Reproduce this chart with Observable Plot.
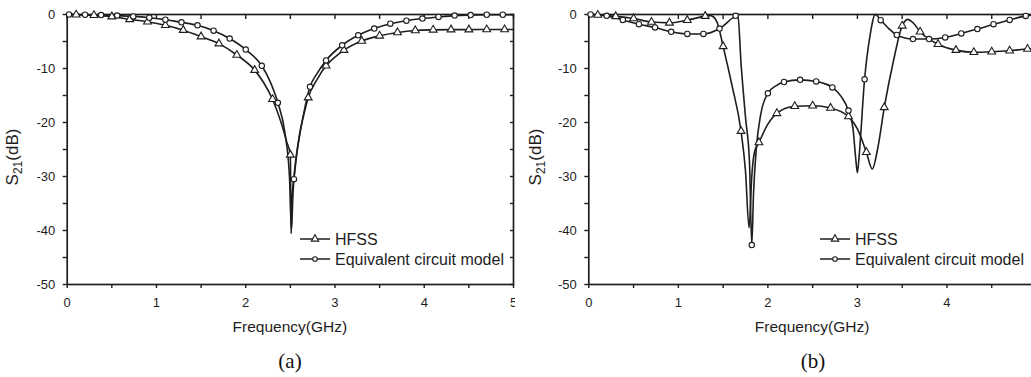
<!DOCTYPE html>
<html>
<head>
<meta charset="utf-8">
<script src="https://cdn.jsdelivr.net/npm/d3@7"></script>
<script src="https://cdn.jsdelivr.net/npm/@observablehq/plot@0.6"></script>
<style>
  html, body { margin: 0; padding: 0; background: #fff; }
  body { width: 1031px; height: 377px; overflow: hidden; position: relative; }
  .panel { position: absolute; top: 0; }
  .panel svg { max-width: none !important; }
  .panel svg g[aria-label$="tick label"] { font-size: 13px !important; }
  .cap { position: absolute; top: 349px; width: 80px; text-align: center;
         font-family: "Liberation Serif", "Times New Roman", serif; font-size: 21px; color: #111; }
</style>
</head>
<body>
<div id="pa" class="panel" style="left:0px;width:530px"></div>
<div id="pb" class="panel" style="left:515px;width:545px"></div>
<div class="cap" style="left:250px">(a)</div>
<div class="cap" style="left:773px">(b)</div>
<script>
// ---- data: [frequency (GHz), S21 (dB), marker shown (1/0)] ----
const hfssA = [
  [0, 0, 0], [0.1, -0.05, 1], [0.3, -0.15, 1], [0.5, -0.4, 1], [0.7, -0.9, 1],
  [0.9, -1.35, 1], [1.1, -2.0, 1], [1.3, -2.9, 1], [1.5, -4.1, 1], [1.7, -5.4, 1],
  [1.9, -7.5, 1], [2.1, -10.3, 1], [2.2, -12.6, 0], [2.3, -15.7, 1], [2.4, -20.2, 0],
  [2.46, -23.6, 0], [2.5, -26.0, 1], [2.508, -40.6, 0], [2.52, -34, 0], [2.55, -29, 0],
  [2.6, -22.5, 0], [2.65, -18.6, 0], [2.7, -15.4, 1], [2.8, -12.0, 0], [2.9, -9.5, 1],
  [3.0, -7.9, 0], [3.1, -6.6, 1], [3.3, -4.9, 1], [3.5, -3.95, 1], [3.7, -3.33, 1],
  [3.9, -2.95, 1], [4.1, -2.84, 1], [4.3, -2.8, 1], [4.5, -2.8, 1], [4.7, -2.78, 1],
  [4.9, -2.78, 1], [5.0, -2.78, 0]
];
const circuitA = [
  [0, 0, 0], [0.02, 0, 1], [0.2, -0.05, 1], [0.38, -0.1, 1], [0.56, -0.2, 1],
  [0.74, -0.35, 1], [0.92, -0.6, 1], [1.1, -0.95, 1], [1.28, -1.45, 1], [1.46, -2.0, 1],
  [1.64, -3.0, 1], [1.82, -4.45, 1], [2.0, -6.5, 1], [2.18, -9.5, 1], [2.27, -12.3, 0],
  [2.36, -16.35, 1], [2.44, -22, 0], [2.49, -30, 0], [2.512, -40, 0], [2.53, -33, 0],
  [2.54, -30.5, 1], [2.6, -22.8, 0], [2.65, -18.3, 0], [2.72, -13.4, 1], [2.8, -10.9, 0],
  [2.9, -8.5, 1], [3.08, -5.7, 1], [3.26, -3.85, 1], [3.44, -2.6, 1], [3.62, -1.7, 1],
  [3.8, -1.15, 1], [3.98, -0.75, 1], [4.16, -0.45, 1], [4.34, -0.2, 1], [4.52, -0.1, 1],
  [4.7, -0.05, 1], [4.88, -0.05, 1], [5.0, -0.05, 0]
];
const hfssB = [
  [0, 0, 0], [0.1, -0.1, 1], [0.3, -0.35, 1], [0.5, -0.75, 1], [0.7, -1.4, 1],
  [0.9, -1.55, 1], [1.1, -1.05, 1], [1.3, -0.3, 1], [1.36, -0.2, 0], [1.43, -1.3, 0],
  [1.5, -5.9, 1], [1.6, -13.2, 0], [1.7, -21.6, 1], [1.75, -29, 0], [1.79, -39.5, 0],
  [1.82, -30, 0], [1.85, -25.5, 0], [1.9, -23.7, 1], [2.0, -20.3, 0], [2.1, -18.3, 1],
  [2.3, -17.0, 1], [2.5, -16.9, 1], [2.7, -17.3, 1], [2.9, -18.9, 1], [3.0, -21.2, 0],
  [3.1, -25.5, 1], [3.166, -28.6, 0], [3.23, -24.5, 0], [3.3, -17.2, 1], [3.4, -8.8, 0],
  [3.5, -2.1, 1], [3.56, -0.9, 0], [3.62, -1.5, 0], [3.7, -3.2, 1], [3.9, -5.5, 1],
  [4.1, -6.6, 1], [4.3, -7.0, 1], [4.5, -6.9, 1], [4.7, -6.7, 1], [4.9, -6.4, 1],
  [5.0, -6.3, 0]
];
const circuitB = [
  [0, 0, 0], [0.02, 0, 1], [0.2, -0.25, 1], [0.38, -1.0, 1], [0.56, -1.8, 1],
  [0.74, -2.4, 1], [0.92, -3.2, 1], [1.1, -3.6, 1], [1.28, -3.6, 1], [1.46, -2.6, 1],
  [1.64, -0.25, 1], [1.665, -0.05, 0], [1.7, -9, 0], [1.75, -19, 0], [1.795, -27.5, 0],
  [1.82, -42.7, 1], [1.84, -33, 0], [1.87, -25, 0], [1.92, -18.5, 0], [2.0, -14.6, 1],
  [2.09, -13.2, 0], [2.18, -12.5, 1], [2.36, -12.1, 1], [2.54, -12.4, 1], [2.72, -13.5, 1],
  [2.82, -15.2, 0], [2.9, -17.8, 1], [2.95, -21, 0], [2.98, -26.5, 0], [3.0, -29.3, 0],
  [3.02, -26, 0], [3.08, -12, 1], [3.14, -4, 0], [3.2, 0, 0], [3.26, -1.05, 1],
  [3.35, -2.6, 0], [3.44, -3.8, 1], [3.62, -4.55, 1], [3.8, -4.55, 1], [3.98, -4.25, 1],
  [4.16, -3.5, 1], [4.34, -2.7, 1], [4.52, -1.8, 1], [4.7, -1.0, 1], [4.88, -0.26, 1],
  [5.0, 0, 0]
];
const xTickValues = [0, 0.5, 1, 1.5, 2, 2.5, 3, 3.5, 4, 4.5, 5];
const yTickValues = [-50, -45, -40, -35, -30, -25, -20, -15, -10, -5, 0];
const legendLabels = ["HFSS", "Equivalent circuit model"];
const xTitle = "Frequency(GHz)";

const INK = "#1e1e1e";
const FONT = "'Liberation Sans', Arial, sans-serif";

function panel(hfss, circ, cfg) {
  const H = 345;
  const fx = d => d[0], fy = d => d[1];
  const svg = Plot.plot({
    width: cfg.width, height: H,
    marginLeft: cfg.ml, marginRight: cfg.width - cfg.xEnd, marginTop: 14, marginBottom: H - 284,
    x: {domain: [0, 5]},
    y: {domain: [-50, 0]},
    style: {fontFamily: FONT, fontSize: "13px", color: INK, background: "white", overflow: "visible"},
    marks: [
      Plot.axisX({anchor: "bottom", ticks: xTickValues, tickSize: 4, tickPadding: 9, fontSize: 13,
        tickFormat: d => (Number.isInteger(d) && d <= cfg.maxLabel) ? String(d) : "", label: null, strokeWidth: 1.4}),
      Plot.axisX({anchor: "top", ticks: xTickValues, tickSize: -4, tickFormat: () => "", label: null, strokeWidth: 1.4}),
      Plot.axisY({anchor: "left", ticks: yTickValues, tickSize: 4, tickPadding: 8, fontSize: 13,
        tickFormat: d => d % 10 === 0 ? String(d) : "", label: null, strokeWidth: 1.4}),
      Plot.axisY({anchor: "right", ticks: yTickValues, tickSize: -4, tickFormat: () => "", label: null, strokeWidth: 1.4}),
      Plot.frame({stroke: INK, strokeWidth: 1.7}),
      Plot.line(hfss, {x: fx, y: fy, curve: "monotone-x", stroke: INK, strokeWidth: 1.6}),
      Plot.line(circ, {x: fx, y: fy, curve: "monotone-x", stroke: INK, strokeWidth: 1.6}),
      Plot.dot(hfss.filter(d => d[2]), {x: fx, y: fy, symbol: "triangle", r: 2.9, fill: "white", stroke: INK, strokeWidth: 1.1}),
      Plot.dot(circ.filter(d => d[2]), {x: fx, y: fy, symbol: "circle", r: 2.7, fill: "white", stroke: INK, strokeWidth: 1.1})
    ]
  });
  const s = d3.select(svg);
  // y-axis title with subscript
  const yt = s.append("text")
    .attr("transform", `translate(${cfg.yTitleX},157) rotate(-90)`)
    .attr("text-anchor", "middle").attr("fill", INK)
    .style("font-family", FONT).style("font-size", "17px");
  yt.append("tspan").text("S");
  yt.append("tspan").attr("dy", 4).style("font-size", "12px").text("21");
  yt.append("tspan").attr("dy", -4).text("(dB)");
  // x-axis title
  s.append("text").attr("x", (cfg.ml + cfg.xEnd) / 2).attr("y", 332)
    .attr("text-anchor", "middle").attr("fill", INK)
    .style("font-family", FONT).style("font-size", "15.5px").text(xTitle);
  // legend
  const lg = s.append("g").attr("transform", `translate(${cfg.legX},0)`);
  [239, 259].forEach((y, i) => {
    lg.append("line").attr("x1", 0).attr("x2", 30).attr("y1", y).attr("y2", y)
      .attr("stroke", INK).attr("stroke-width", 1.5);
    if (i === 0) {
      lg.append("path").attr("d", d3.symbol(d3.symbolTriangle, 24)())
        .attr("transform", `translate(15,${y})`).attr("fill", "white").attr("stroke", INK).attr("stroke-width", 1.1);
    } else {
      lg.append("circle").attr("cx", 15).attr("cy", y).attr("r", 2.3)
        .attr("fill", "white").attr("stroke", INK).attr("stroke-width", 1.1);
    }
    lg.append("text").attr("x", 35).attr("y", y).attr("dy", "0.36em").attr("fill", INK)
      .attr("text-anchor", "start")
      .style("font-family", FONT).style("font-size", "16px").text(legendLabels[i]);
  });
  return svg;
}

document.getElementById("pa").appendChild(
  panel(hfssA, circuitA, {width: 530, ml: 66.7, xEnd: 513, yTitleX: 18, legX: 300, maxLabel: 5}));
document.getElementById("pb").appendChild(
  panel(hfssB, circuitB, {width: 545, ml: 73.3, xEnd: 521, yTitleX: 25.5, legX: 305, maxLabel: 4}));
</script>
</body>
</html>
